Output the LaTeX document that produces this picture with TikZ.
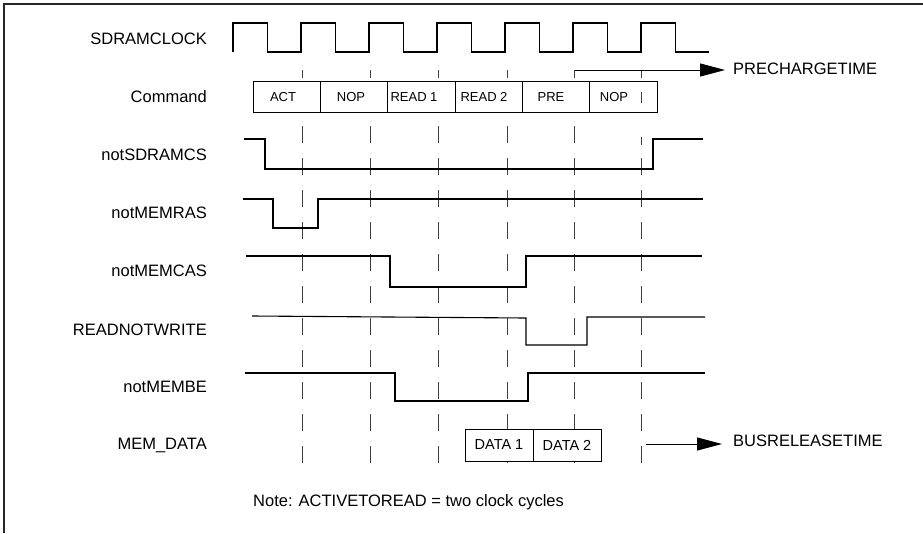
\documentclass[tikz,border=0pt]{standalone}
\usepackage{fontspec}
\setmainfont{Liberation Sans}
\usetikzlibrary{arrows.meta}
\begin{document}
\begin{tikzpicture}[x=1pt,y=-1pt,
  sig/.style={line width=1.1pt, line join=miter},
  gridln/.style={line width=0.9pt, black!75},
  gdash/.style={gridln, dash pattern=on 17pt off 15pt},
  lbl/.style={anchor=east, inner sep=0pt, font=\fontsize{16.5}{18}\selectfont},
  cell/.style={draw, fill=white, line width=0.9pt, minimum width=67.33pt, minimum height=31pt, inner sep=0pt},
  ctxt/.style={inner sep=0pt, font=\fontsize{13}{15}\selectfont},
  dcell/.style={draw, fill=white, line width=0.9pt, minimum width=68pt, minimum height=32pt, inner sep=0pt, font=\fontsize{14.5}{16}\selectfont},
  arr/.style={line width=1pt, -{Triangle[length=25pt,width=13pt]}},
  rtxt/.style={anchor=west, inner sep=0pt, font=\fontsize{16.5}{18}\selectfont},
]
\useasboundingbox (0,0) rectangle (923,533);
% frame
\draw[line width=1.4pt, black!85] (4,533) -- (4,4) -- (923,4);

% labels
\node[lbl] (lclk) at (207,39) {SDRAMCLOCK};
\node[lbl] (lcmd) at (207,97) {Command};
\node[lbl] (lcs)  at (207,155) {notSDRAMCS};
\node[lbl] (lras) at (207,213) {notMEMRAS};
\node[lbl] (lcas) at (207,271) {notMEMCAS};
\node[lbl] (lrnw) at (207,330) {READNOTWRITE};
\node[lbl] (lbe)  at (207,387) {notMEMBE};
\node[lbl] (ldat) at (207,445) {MEM\_DATA};

% grid dashed lines
\foreach \gx in {302,370,438,507,574} {
  \draw[gridln] (\gx,70) -- (\gx,78);
  \draw[gdash] (\gx,126) -- (\gx,465);
}
\draw[gridln] (641,70) -- (641,78);
\draw[gridln] (641,137) -- (641,145);
\draw[gdash] (641,158) -- (641,465);

% clock
\draw[sig] (233,52) foreach \k in {0,...,6} {
  -- ({233+68*\k},52) -- ({233+68*\k},23) -- ({267.5+68*\k},23) -- ({267.5+68*\k},52) } -- (709,52);

% signals
\draw[sig] (244,139) -- (265,139) -- (265,169) -- (653,169) -- (653,139) -- (703,139);
\draw[sig] (243,199) -- (273,199) -- (273,228) -- (318,228) -- (318,199) -- (703,199);
\draw[sig] (246,256) -- (390,256) -- (390,287) -- (526,287) -- (526,256) -- (702,256);
\draw[sig] (252,316) -- (526,318) -- (526,345) -- (587,345) -- (587,317) -- (705,317);
\draw[sig] (245,373) -- (395,373) -- (395,401) -- (528,401) -- (528,373) -- (705,373);

% command cells
\foreach \i in {1,...,6} {
  \node[cell] (c\i) at ({253+67.33*(\i-0.5)},96.5) {};
}
\node[ctxt] (t1) at (283,97) {ACT};
\node[ctxt] (t2) at (351,97) {NOP};
\node[ctxt] (t3) at (414,97) {READ 1};
\node[ctxt] (t4) at (484,97) {READ 2};
\node[ctxt] (t5) at (551,97) {PRE};
\node[ctxt] (t6) at (614,97) {NOP};
\draw[gridln] (641,92) -- (641,103);

% data cells
\node[dcell] (d1) at (499,445) {DATA 1};
\node[dcell] (d2) at (567,445) {DATA 2};

% arrows
\node[rtxt] (prech) at (733,69) {PRECHARGETIME};
\coordinate (pstart) at (575,70);
\draw[arr] (pstart) -- ([xshift=-8pt,yshift=-1pt]prech.west);
\node[rtxt] (busrel) at (733,441) {BUSRELEASETIME};
\coordinate (bstart) at (646,444);
\draw[arr] (bstart) -- ([xshift=-11pt,yshift=-3pt]busrel.west);

% note
\node[rtxt] (note) at (253,502) {Note: ACTIVETOREAD = two clock cycles};
\end{tikzpicture}
\end{document}
